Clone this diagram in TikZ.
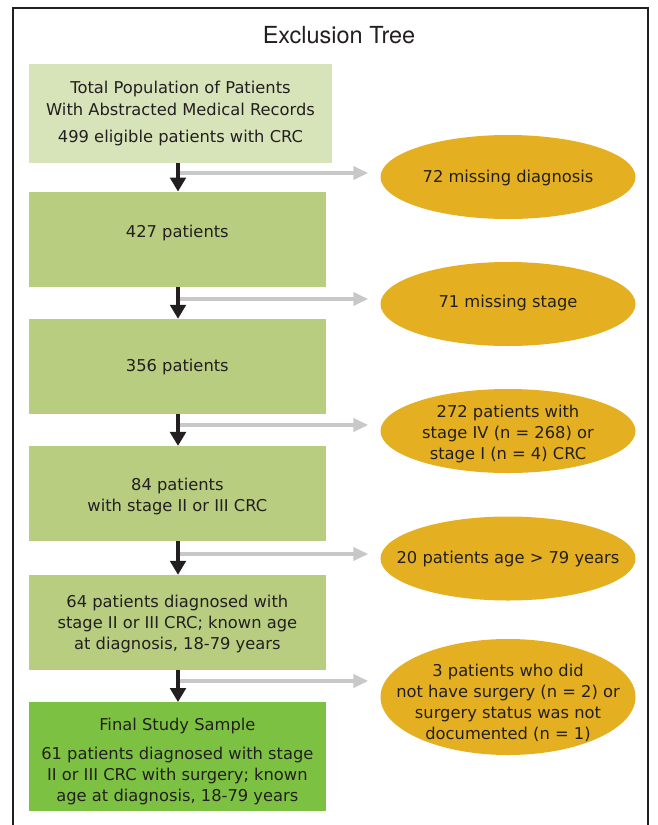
\documentclass[tikz,border=0pt]{standalone}
\usepackage{fontspec}
\setmainfont{DejaVu Sans}
\newfontfamily\titlefont{TeX Gyre Heros}
\usetikzlibrary{shapes.geometric,arrows.meta}
\definecolor{txt}{HTML}{231F20}
\definecolor{paleg}{HTML}{D7E4B9}
\definecolor{midg}{HTML}{B8CD80}
\definecolor{darkg}{HTML}{7DC142}
\definecolor{gold}{HTML}{E4B022}
\definecolor{arrgray}{HTML}{C8C8C8}
\tikzset{
  body/.style={font=\fontsize{16.3}{21}\selectfont, text=txt, align=center},
  stepbox/.style={rectangle, fill=midg, draw=none, inner sep=0pt,
    minimum width=296.7pt},
  exclbox/.style={ellipse, fill=gold, draw=none, inner sep=0pt,
    minimum width=255pt, minimum height=84pt},
  flowarrow/.style={draw=txt, line width=3.8pt,
    -{Triangle[width=15.5pt,length=14pt]}},
  sidearrow/.style={draw=arrgray, line width=4pt,
    -{Triangle[width=13pt,length=15pt]}, shorten >=12pt},
  frameline/.style={draw=txt, line width=2pt}
}
\begin{document}
\begin{tikzpicture}[x=1pt,y=-1pt]
\useasboundingbox (0,0) rectangle (658,825);
% frame
\draw[frameline] (13,826) -- (13,8) -- (648,8) -- (648,826);
\node[font=\titlefont\fontsize{23.5}{26}\selectfont, text=txt, anchor=base, inner sep=0pt]
  (title) at (339,43.3) {Exclusion Tree};

% main boxes
\node[stepbox, fill=paleg, minimum width=303pt, minimum height=99pt,
  label={[body, yshift=-0.5pt]center:Total Population of Patients\\With Abstracted Medical Records\\[7pt]499 eligible patients with CRC}]
  (b1) at (180.5,113.5) {};
\node[stepbox, minimum height=95pt, label={[body, yshift=6pt]center:427 patients}] (b2) at (177.35,239.3) {};
\node[stepbox, minimum height=95pt, label={[body, yshift=-0.5pt]center:356 patients}] (b3) at (177.35,366.5) {};
\node[stepbox, minimum height=94.7pt, label={[body, yshift=-3pt]center:84 patients\\with stage II or III CRC}] (b4) at (177.35,493.5) {};
\node[stepbox, minimum height=94.5pt, label={[body, yshift=-2pt]center:64 patients diagnosed with\\stage II or III CRC; known age\\at diagnosis, 18-79 years}]
  (b5) at (177.35,622.3) {};
\node[stepbox, fill=darkg, minimum height=108.4pt, label={[body, yshift=-5pt]center:Final Study Sample\\[8pt]61 patients diagnosed with stage\\II or III CRC with surgery; known\\age at diagnosis, 18-79 years}]
  (b6) at (177.35,756.5) {};

% exclusion ellipses
\node[exclbox, label={[body, yshift=-0.5pt]center:72 missing diagnosis}] (e1) at (508,177) {};
\node[exclbox, label={[body, yshift=1pt]center:71 missing stage}] (e2) at (508,304) {};
\node[exclbox, label={[body, yshift=-3pt]center:272 patients with\\stage IV (n = 268) or\\stage I (n = 4) CRC}] (e3) at (508,431) {};
\node[exclbox, label={[body, yshift=-0.5pt]center:20 patients age > 79 years}] (e4) at (508,558.5) {};
\node[exclbox, minimum height=116pt, label={[body, yshift=-5.5pt]center:3 patients who did\\not have surgery (n = 2) or\\surgery status was not\\documented (n = 1)}] (e5) at (508,697) {};

% branch points
\coordinate (g1) at (178,173);
\coordinate (g2) at (178,299);
\coordinate (g3) at (178,425);
\coordinate (g4) at (178,554);
\coordinate (g5) at (178,681);

% side arrows
\draw[sidearrow] (g1) -- (g1 -| e1.west);
\draw[sidearrow] (g2) -- (g2 -| e2.west);
\draw[sidearrow] (g3) -- (g3 -| e3.west);
\draw[sidearrow] (g4) -- (g4 -| e4.west);
\draw[sidearrow] (g5) -- (g5 -| e5.west);

% main flow arrows
\draw[flowarrow] (b1.south -| g1) -- (b2.north -| g1);
\draw[flowarrow] (b2.south -| g1) -- (b3.north -| g1);
\draw[flowarrow] (b3.south -| g1) -- (b4.north -| g1);
\draw[flowarrow] (b4.south -| g1) -- (b5.north -| g1);
\draw[flowarrow] (b5.south -| g1) -- (b6.north -| g1);
\end{tikzpicture}
\end{document}
